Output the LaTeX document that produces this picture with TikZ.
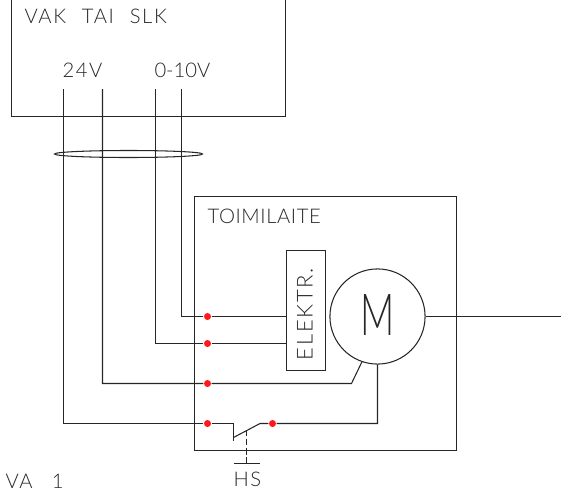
\documentclass[tikz,border=0pt]{standalone}
\usepackage{fontspec}
\setmainfont{Lato}[UprightFont=* Light]
\newfontfamily\cadfont[LetterSpace=8]{Lato}[UprightFont=* Light]
\newfontfamily\cadwide[LetterSpace=3]{Lato}[UprightFont=* Light]
\usetikzlibrary{shapes.geometric, arrows}
\tikzset{
    wire/.style={line width=0.6pt, black!85},
    reddot/.style={draw=none, circle, inner sep=0pt, minimum size=4pt, fill=red!90!white},
    cadtext/.style={inner sep=0pt, anchor=base west, font=\fontsize{11.5}{13}\cadfont, black!85}
}

\begin{document}
\begin{tikzpicture}[x=0.02cm, y=-0.02cm, line width=0.6pt]
        \useasboundingbox (0,0) rectangle (564,490);

        % Control unit, its top edge is outside the picture
        \draw[wire] (11.5,0) |- (285.5,116.5) -- (285.5,0);
        \node[cadtext] (unit) at (24,23) {VAK\hspace{9pt}TAI\hspace{9pt}SLK};
        \node[cadtext] (volt24) at (62,77) {24V};
        \node[cadtext, font=\fontsize{11.5}{13}\selectfont] (volt10) at (154,77) {0-10V};

        % Actuator
        \draw[wire] (194.5,196.5) rectangle (456.5,450.5);
        \node[cadtext, font=\fontsize{11.5}{13}\cadwide] (actuator) at (207,223.5) {TOIMILAITE};
        \node[draw, wire, minimum width=39*0.57pt, minimum height=120*0.57pt, inner sep=0pt] (elektr) at (306,310.5) {};
        \node[cadtext, anchor=center, rotate=90, font=\fontsize{12.5}{14}\cadfont] (elektrlabel) at (305,314) {ELEKTR.};
        \node[draw, wire, circle, minimum size=95*0.57pt, inner sep=0pt] (motor) at (377.5,316.5) {};
        \node[inner sep=0pt, font=\fontsize{33}{33}\selectfont, black!85] (mlabel) at (377.5,314.5) {\scalebox{0.65}[1]{M}};
        \coordinate (shaft) at (561,316.5);
        \draw[wire] (motor) -- (shaft);

        % Terminals
        \foreach \name/\x/\y in {d1/207.5/316.5, d2/207.5/343.5, d3/207.5/383.5, d4/207.5/423.5, d5/272.5/423.5}
            \node[reddot] (\name) at (\x,\y) {};

        % Cable from the unit to the actuator
        \foreach \name/\x in {t1/63.5, t2/102.5, t3/155.5, t4/181.5}
            \coordinate (\name) at (\x,89);
        \draw[wire] (t4) |- (d1) -- (elektr.west |- d1);
        \draw[wire] (t3) |- (d2) -- (elektr.west |- d2);
        \coordinate (mbend) at (351.5,383.5);
        \draw[wire] (t2) |- (d3) -- (mbend) -- (motor.-109);
        \draw[wire] (128.5,154) ellipse (74 and 3.5);

        % Limit switch
        \coordinate (swa) at (233.5,423.5);
        \coordinate (swb) at (233.5,441);
        \coordinate (swk) at (233.5,437.5);
        \coordinate (swc) at (260,423.5);
        \coordinate (swd) at (377.5,423.5);
        \draw[wire] (t1) |- (d4) -- (swa) -- (swb);
        \draw[wire] (swk) -- (swc) -- (d5) -- (swd) -- (motor.south);
        \coordinate (dashtop) at (246.5,430);
        \coordinate (dashend) at (246.5,463.5);
        \draw[wire, dash pattern=on 3.6pt off 1.6pt] (dashtop) -- (dashend);
        \coordinate (bara) at (233.5,463.5);
        \coordinate (barb) at (260,463.5);
        \draw[wire] (bara) -- (barb);
        \node[cadtext] (hs) at (233,486) {HS};
        \node[cadtext] (code) at (5,488) {VA\hspace{11pt}1};
    \end{tikzpicture}
\end{document}
